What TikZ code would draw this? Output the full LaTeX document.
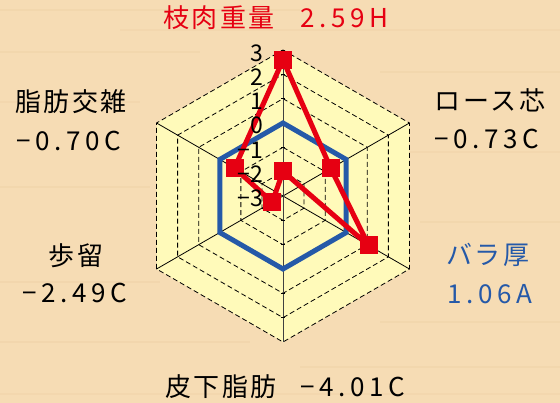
\documentclass[tikz,border=0pt]{standalone}
\usepackage{fontspec}
\setmainfont{Noto Sans CJK JP}
\newfontfamily\jpf[LetterSpace=10]{Noto Sans CJK JP}
\newfontfamily\numf[LetterSpace=18]{Noto Sans CJK JP}
\definecolor{bgc}{RGB}{246,220,180}
\definecolor{grain}{RGB}{236,204,160}
\definecolor{yel}{RGB}{255,250,186}
\definecolor{myred}{RGB}{230,0,18}
\definecolor{myblue}{RGB}{37,89,168}
\begin{document}
\begin{tikzpicture}[x=1pt,y=1pt,
  ring/.style={dash pattern=on 5pt off 3pt, line width=0.8pt, black},
  spoke/.style={line width=0.8pt, black},
  axisline/.style={line width=1pt, black!75},
  redline/.style={draw=myred, line width=5pt, line join=round},
  blueline/.style={draw=myblue, line width=5pt, line join=miter},
  sqmark/.style={rectangle, fill=myred, minimum size=18pt, inner sep=0pt},
  ticklab/.style={anchor=east, font=\fontsize{23}{23}\selectfont, inner sep=0pt},
  catlab/.style={font=\jpf\fontsize{26}{26}\selectfont, inner sep=0pt},
  vallab/.style={font=\numf\fontsize{26}{26}\selectfont, inner sep=0pt}
]
\useasboundingbox (0,0) rectangle (560,403);
\fill[bgc] (0,0) rectangle (560,403);
% wood grain
\foreach \yy/\xs/\xe/\op in {392/0/300/0.3, 372/120/560/0.25, 350/0/200/0.3, 330/380/560/0.3, 300/0/140/0.25, 250/400/560/0.25, 215/0/150/0.3, 180/420/560/0.3, 120/0/160/0.35, 80/380/560/0.3, 60/0/250/0.35, 35/300/560/0.3, 8/0/560/0.25}{
  \fill[grain, opacity=\op] (\xs,\yy) rectangle (\xe,\yy+2);
}
\begin{scope}[shift={(283,207)}]
  % outer fill
  \fill[yel] (90:146) -- (30:146) -- (-30:146) -- (-90:146) -- (210:146) -- (150:146) -- cycle;
  % rings
  \foreach \r in {24.33,48.67,73,97.33,121.67,146}{
    \draw[ring] (90:\r) -- (30:\r) -- (-30:\r) -- (-90:\r) -- (210:\r) -- (150:\r) -- cycle;
  }
  % spokes
  \coordinate (C) at (0,0);
  \foreach \a in {30,-30,210,150}{
    \draw[spoke] (C) -- (\a:146);
  }
  \coordinate (Vt) at (90:146);
  \coordinate (Vb) at (-90:146);
  \draw[axisline] (Vb) -- (Vt);
  \foreach \r in {24.33,48.67,73,97.33,121.67,146,-24.33,-48.67,-73,-97.33,-121.67}{
    \draw[line width=0.8pt] (-2,\r) -- (2,\r);
  }
  % zero ring
  \draw[blueline] (90:73) -- (30:73) -- (-30:73) -- (-90:73) -- (210:73) -- (150:73) -- cycle;
  % data
  \coordinate (pA) at (90:136);
  \coordinate (pB) at (30:55.2);
  \coordinate (pC) at (-30:98.8);
  \coordinate (pD) at (90:24.6);
  \coordinate (pE) at (210:12.4);
  \coordinate (pF) at (150:56);
  \draw[redline] (pA) -- (pB) -- (pC) -- (pD) -- (pE) -- (pF) -- cycle;
  \foreach \p in {pA,pB,pC,pD,pE,pF}{
    \node[sqmark] (m\p) at (\p) {};
  }
  % tick labels
  \node[ticklab] (t3) at (-20,143) {3};
  \node[ticklab] (t2) at (-20,119) {2};
  \node[ticklab] (t1) at (-20,95) {1};
  \node[ticklab] (t0) at (-20,71) {0};
  \node[ticklab] (tm1) at (-20,46) {−1};
  \node[ticklab] (tm2) at (-20,22) {−2};
  \node[ticklab] (tm3) at (-20,-2) {−3};
\end{scope}
% category labels
\node[catlab, text=myred, anchor=west] (topl) at (163,385) {枝肉重量};
\node[vallab, text=myred, anchor=west] (topv) at (300,385) {2.59H};
\node[catlab] (l1) at (71,301) {脂肪交雑};
\node[vallab] (v1) at (69,262) {−0.70C};
\node[catlab] (l2) at (490,303) {ロース芯};
\node[vallab] (v2) at (487,264) {−0.73C};
\node[catlab] (l3) at (76,147) {歩留};
\node[vallab] (v3) at (75,110) {−2.49C};
\node[catlab, text=myblue] (l4) at (488,148) {バラ厚};
\node[vallab, text=myblue] (v4) at (490,109) {1.06A};
\node[catlab, anchor=west] (botl) at (165,16) {皮下脂肪};
\node[vallab, anchor=west] (botv) at (300,16) {−4.01C};
\end{tikzpicture}
\end{document}
